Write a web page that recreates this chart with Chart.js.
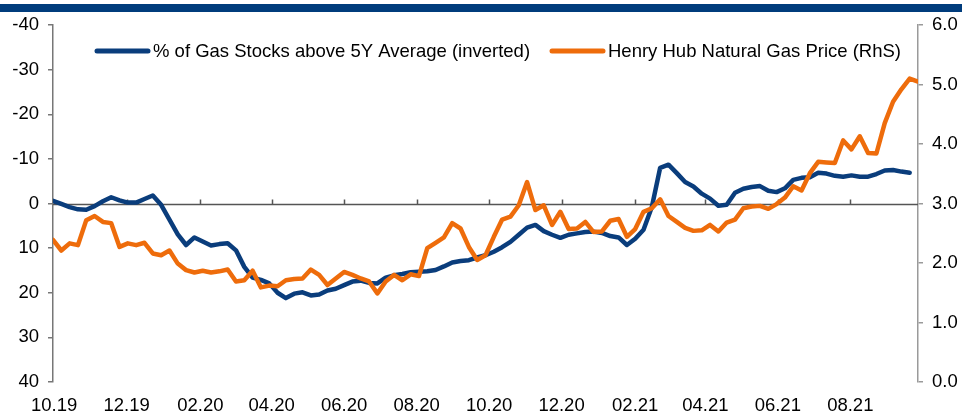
<!DOCTYPE html>
<html><head><meta charset="utf-8">
<script src="https://cdn.jsdelivr.net/npm/chart.js@4.4.1/dist/chart.umd.min.js"></script>
<style>
html,body{margin:0;padding:0;background:#fff;}
#wrap{position:relative;width:962px;height:412px;overflow:hidden;}
#bar{position:absolute;left:0;top:4px;width:962px;height:8px;background:#003C7C;}
#c{position:absolute;left:0;top:0;}
</style></head><body>
<div id="wrap"><canvas id="c" width="962" height="412"></canvas><div id="bar"></div></div>
<script>
// ---- data ----
const monthLabels = ['10.19','12.19','02.20','04.20','06.20','08.20','10.20','12.20','02.21','04.21','06.21','08.21'];
const seriesStart = '2019-09-30'; // date of the first weekly observation
const seriesNames = ['% of Gas Stocks above 5Y Average (inverted)', 'Henry Hub Natural Gas Price (RhS)'];
const leftTicks = [-40,-30,-20,-10,0,10,20,30,40];
const rightTicks = [0,1,2,3,4,5,6];

// weekly, % of gas stocks above 5Y average (left axis, inverted)
const gasStocks = [
 -0.6, 0.1, 0.8, 1.3, 1.4, 0.6, -0.5, -1.4, -0.7, -0.2,
 -0.2, -1.0, -1.8, 0.3, 3.6, 6.9, 9.3, 7.6, 8.5, 9.4,
 9.1, 8.9, 10.5, 14.2, 16.6, 17.1, 17.9, 20.0, 21.2, 20.2,
 19.9, 20.6, 20.4, 19.5, 19.1, 18.3, 17.5, 17.3, 17.8, 17.9,
 16.6, 16.1, 15.8, 15.4, 15.3, 15.2, 14.9, 14.1, 13.2, 12.9,
 12.7, 12.1, 11.6, 10.8, 9.8, 8.6, 7.0, 5.4, 4.8, 6.2,
 7.0, 7.7, 7.0, 6.7, 6.4, 6.3, 6.6, 7.3, 7.6, 9.3,
 7.9, 5.9, 0.8, -8.0, -8.7, -6.8, -4.8, -3.8, -2.2, -1.1,
 0.5, 0.3, -2.4, -3.3, -3.7, -3.9, -2.85, -2.55, -3.4, -5.3,
 -5.75, -5.9, -6.9, -6.7, -6.2, -6.0, -6.3, -6.0, -6.0, -6.6,
 -7.4, -7.5, -7.15, -6.9
];

// weekly, Henry Hub natural gas price, USD/MMBtu (right axis)
const henryHub = [
 2.39, 2.21, 2.33, 2.30, 2.72, 2.79, 2.69, 2.67, 2.27, 2.33,
 2.30, 2.34, 2.16, 2.13, 2.21, 1.99, 1.88, 1.84, 1.87, 1.84,
 1.86, 1.89, 1.69, 1.71, 1.87, 1.59, 1.62, 1.61, 1.71, 1.73,
 1.74, 1.89, 1.80, 1.63, 1.74, 1.85, 1.80, 1.74, 1.69, 1.49,
 1.69, 1.80, 1.71, 1.81, 1.78, 2.25, 2.34, 2.43, 2.67, 2.58,
 2.27, 2.05, 2.13, 2.44, 2.73, 2.78, 2.97, 3.36, 2.89, 2.97,
 2.64, 2.86, 2.57, 2.58, 2.69, 2.52, 2.53, 2.71, 2.74, 2.44,
 2.57, 2.86, 2.92, 3.07, 2.79, 2.69, 2.59, 2.54, 2.55, 2.64,
 2.53, 2.68, 2.73, 2.92, 2.95, 2.96, 2.91, 2.99, 3.10, 3.29,
 3.22, 3.51, 3.70, 3.69, 3.68, 4.06, 3.91, 4.13, 3.85, 3.84,
 4.35, 4.71, 4.92, 5.10, 5.05
];

// ---- styles ----
const BLUE = '#0A3D7C';
const ORANGE = '#EE6C0B';
const FONT = "'Liberation Sans', Arial, sans-serif";
const FS = 18.5;

function monthWeek(lbl){
  const [mm, yy] = lbl.split('.').map(Number);
  return (Date.UTC(2000 + yy, mm - 1, 1) - Date.parse(seriesStart)) / (7 * 864e5);
}

const zeroAxis = {
  id: 'zeroAxis',
  beforeDatasetsDraw(chart){
    const {ctx, chartArea: a, scales} = chart;
    const y0 = Math.round(scales.y.getPixelForValue(0)) + 0.5;
    ctx.save();
    ctx.strokeStyle = '#555';
    ctx.lineWidth = 1.5;
    ctx.beginPath();
    ctx.moveTo(a.left, y0); ctx.lineTo(a.right, y0);
    scales.x.ticks.forEach(t => {
      const px = Math.round(scales.x.getPixelForValue(t.value)) + 0.5;
      ctx.moveTo(px, y0); ctx.lineTo(px, y0 - 5);
    });
    ctx.stroke();
    ctx.restore();
  }
};

const legendBox = {
  id: 'legendBox',
  afterDraw(chart){
    const {ctx} = chart;
    const items = [
      {x: 95, ds: chart.data.datasets[0]},
      {x: 550, ds: chart.data.datasets[1]}
    ];
    ctx.save();
    ctx.font = FS + 'px ' + FONT;
    ctx.textBaseline = 'middle';
    ctx.fillStyle = '#000';
    items.forEach(it => {
      ctx.strokeStyle = it.ds.borderColor;
      ctx.lineWidth = 5;
      ctx.lineCap = 'round';
      ctx.beginPath(); ctx.moveTo(it.x + 2, 51); ctx.lineTo(it.x + 53, 51); ctx.stroke();
      ctx.fillText(it.ds.label, it.x + 58, 52);
    });
    ctx.restore();
  }
};

Chart.defaults.font.family = FONT;
Chart.defaults.font.size = FS;
Chart.defaults.color = '#000';

new Chart(document.getElementById('c'), {
  type: 'line',
  data: {
    datasets: [
      {
        label: seriesNames[0],
        data: gasStocks.map((v, i) => ({x: i, y: v})),
        borderColor: BLUE, borderWidth: 4.5, pointRadius: 0, tension: 0,
        borderJoinStyle: 'round', borderCapStyle: 'round',
        yAxisID: 'y', order: 1
      },
      {
        label: seriesNames[1],
        data: henryHub.map((v, i) => ({x: i, y: v})),
        borderColor: ORANGE, borderWidth: 4.5, pointRadius: 0, tension: 0,
        borderJoinStyle: 'round', borderCapStyle: 'round',
        yAxisID: 'y2', order: 0
      }
    ]
  },
  options: {
    responsive: false,
    animation: false,
    devicePixelRatio: 1,
    layout: {padding: {top: 25, left: 0, right: 0, bottom: 0}},
    plugins: {legend: {display: false}, tooltip: {enabled: false}},
    scales: {
      x: {
        type: 'linear', min: 0, max: henryHub.length - 1,
        afterBuildTicks: s => { s.ticks = monthLabels.map(l => ({value: monthWeek(l)})); },
        afterFit: s => { s.height = 30; },
        grid: {display: false, drawTicks: false},
        border: {display: false},
        ticks: {autoSkip: false, maxRotation: 0, padding: 13, color: '#000',
                callback: (v, i) => monthLabels[i]}
      },
      y: {
        position: 'left', reverse: true, min: -40, max: 40,
        afterBuildTicks: s => { s.ticks = leftTicks.map(v => ({value: v})); },
        afterFit: s => { s.width = 53; },
        grid: {drawOnChartArea: false, tickLength: 5, color: '#777', lineWidth: 1.5},
        border: {color: '#777', width: 1.5},
        ticks: {padding: 9, color: '#000', callback: v => String(v)}
      },
      y2: {
        position: 'right', min: 0, max: 6,
        afterBuildTicks: s => { s.ticks = rightTicks.map(v => ({value: v})); },
        afterFit: s => { s.width = 44; },
        grid: {drawOnChartArea: false, tickLength: 5, color: '#9a9a9a', lineWidth: 1.5},
        border: {color: '#9a9a9a', width: 1.5},
        ticks: {padding: 9, color: '#000', callback: v => v.toFixed(1)}
      }
    }
  },
  plugins: [zeroAxis, legendBox]
});
</script>
</body></html>
